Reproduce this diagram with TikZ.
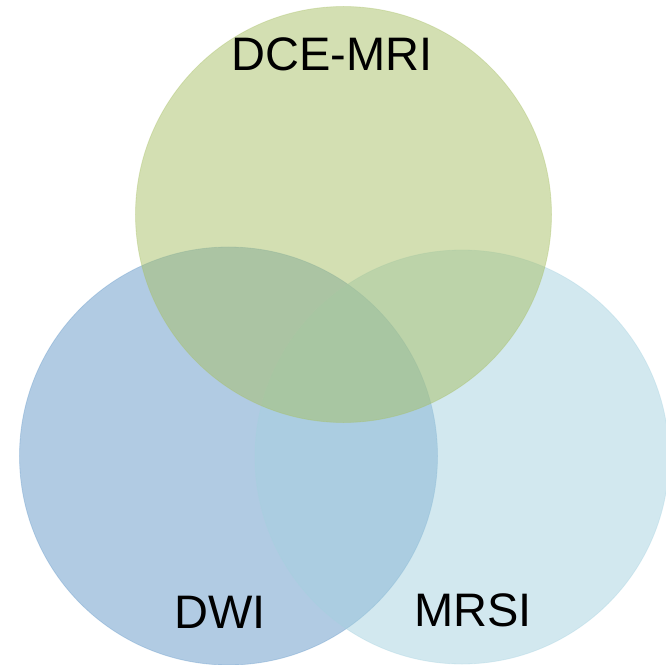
\documentclass[tikz,border=0pt]{standalone}
\usepackage{fontspec}
\setmainfont{Liberation Sans}
\definecolor{dcecol}{RGB}{167,191,101}
\definecolor{dwicol}{RGB}{99,151,199}
\definecolor{mrsicol}{RGB}{165,209,223}
\tikzset{
  venn/.style={circle,inner sep=0pt,minimum size=#1,fill opacity=0.5,draw opacity=0.35,line width=0.8bp},
  lbl/.style={anchor=base,inner sep=0pt,font=\fontsize{47bp}{50bp}\selectfont}
}
\begin{document}
\begin{tikzpicture}[x=1bp,y=-1bp]
\useasboundingbox (0,0) rectangle (666,665);
% circles
\node[venn=418bp,fill=dwicol,draw=dwicol] (dwi) at (228.5,456) {};
\node[venn=414bp,fill=mrsicol,draw=mrsicol] (mrsi) at (462,457) {};
\node[venn=416bp,fill=dcecol,draw=dcecol] (dce) at (343.5,214.5) {};
% labels
\node[lbl] (dcelbl) at (332,71) {DCE-MRI};
\node[lbl] (dwilbl) at (220,628) {DWI};
\node[lbl] (mrsilbl) at (473,626) {MRSI};
\end{tikzpicture}
\end{document}
